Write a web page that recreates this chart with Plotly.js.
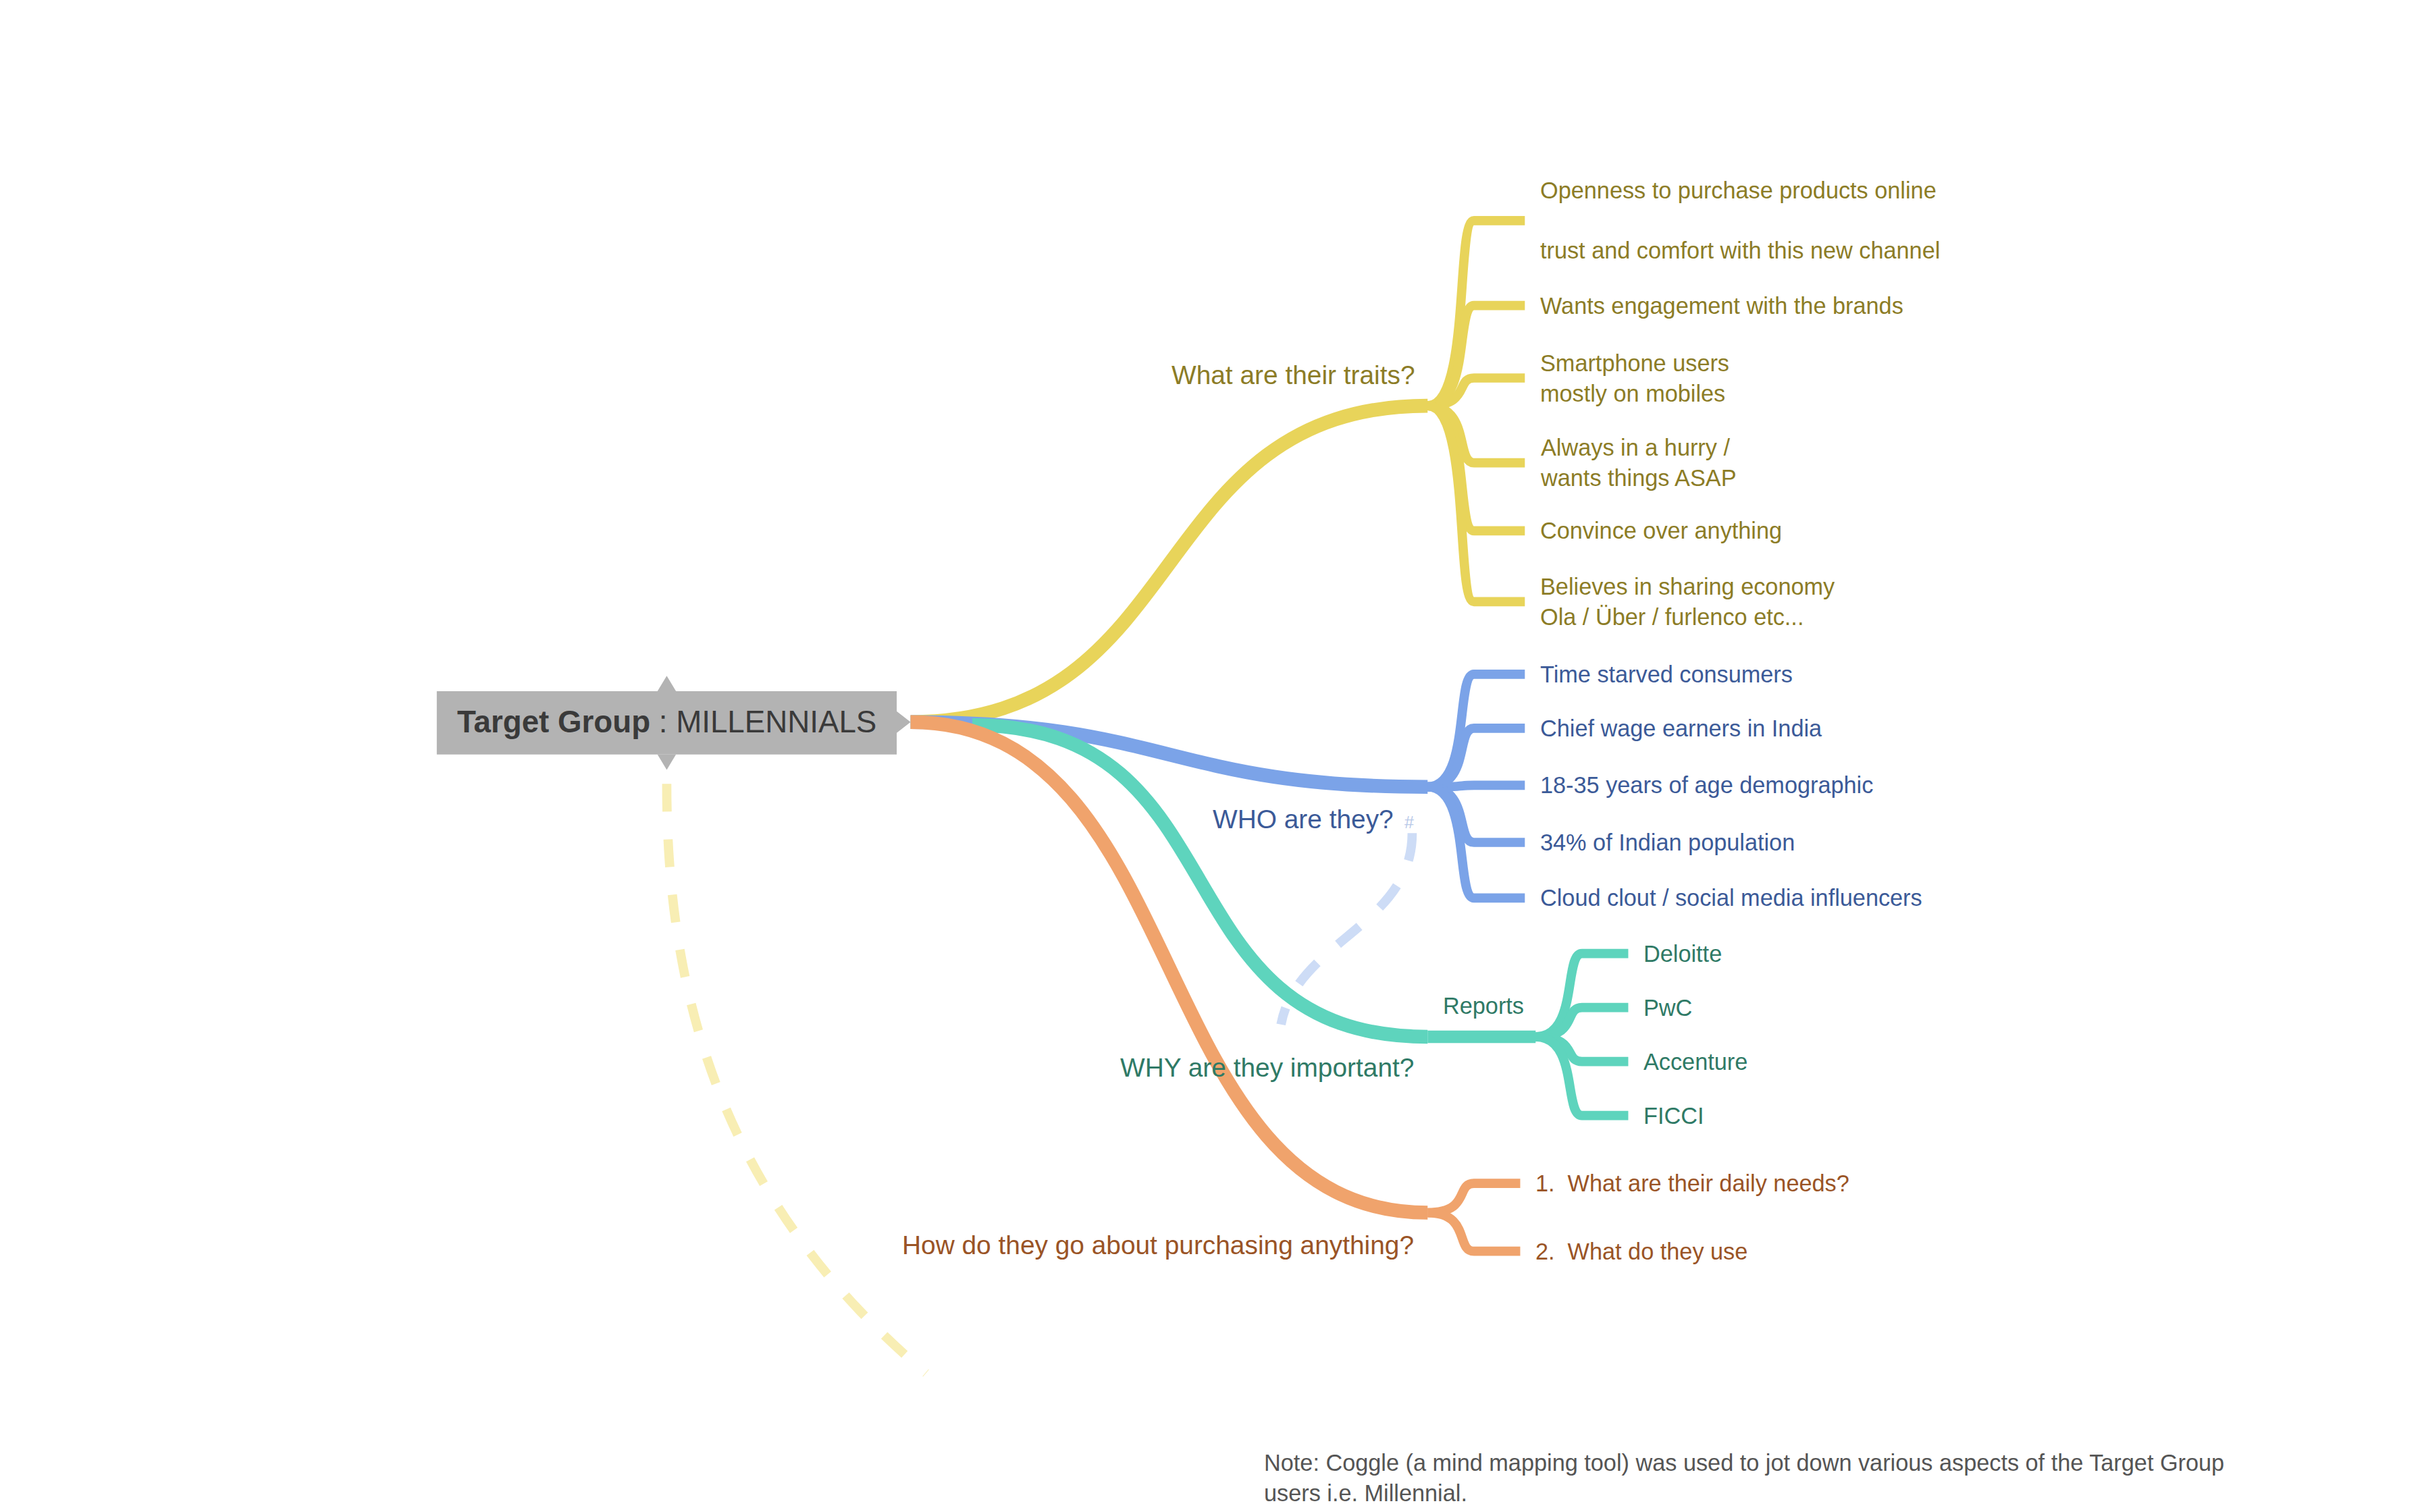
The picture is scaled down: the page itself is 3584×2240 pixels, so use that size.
<!DOCTYPE html>
<html><head><meta charset="utf-8">
<script src="https://cdn.plot.ly/plotly-3.0.1.min.js"></script>
<style>html,body{margin:0;padding:0;background:#fff}#c{width:3584px;height:2240px}</style>
</head><body><div id="c"></div>
<script>
const rootBold = "Target Group";
const rootRest = " : MILLENNIALS";
const groupTitles = ["What are their traits?", "WHO are they?", "WHY are they important?", "How do they go about purchasing anything?"];
const groupColors = ["#e8d45a", "#7ba3e8", "#5ed4bd", "#f0a36c"];
const groupText = ["#8c7c26", "#3b5a98", "#2f7a66", "#9a5426"];
const traits = ["Openness to purchase products online<br><br>trust and comfort with this new channel","Wants engagement with the brands","Smartphone users<br>mostly on mobiles","Always in a hurry /<br>wants things ASAP","Convince over anything","Believes in sharing economy<br>Ola / Über / furlenco etc..."];
const who = ["Time starved consumers","Chief wage earners in India","18-35 years of age demographic","34% of Indian population","Cloud clout / social media influencers"];
const reportsTitle = "Reports";
const reports = ["Deloitte","PwC","Accenture","FICCI"];
const purchasing = ["1.  What are their daily needs?","2.  What do they use"];
const note = "Note: Coggle (a mind mapping tool) was used to jot down various aspects of the Target Group<br>users i.e. Millennial.";

// layout geometry (display units, 1568x980 canvas)
const S = 3584/1568;
const shapes = [], ann = [];
const F = "Liberation Sans, Arial, sans-serif";
function curve(x0,y0,x1,y1,color,w,dash,k){
  k = k===undefined?0.5:k;
  const dx=(x1-x0)*k;
  shapes.push({type:'path',xref:'x',yref:'y',path:`M ${x0},${y0} C ${x0+dx},${y0} ${x1-dx},${y1} ${x1},${y1}`,
    line:{color:color,width:w*S,dash:dash||'solid'},layer:'below'});
}
function label(x,y,t,color,size,anchor){
  ann.push({x:x,y:y,xref:'x',yref:'y',text:t,showarrow:false,xanchor:anchor||'left',yanchor:'middle',align:'left',
    font:{family:F,size:size*S,color:color}});
}
function bracket(px,py,ex,ends,labels,color,tcol){
  ends.forEach((ey,i)=>{
    shapes.push({type:'path',xref:'x',yref:'y',path:`M ${px},${py} C ${px+28},${py} ${px+18},${ey} ${px+30},${ey+(py>ey?8:-8)*0} C ${px+36},${ey} ${ex-25},${ey} ${ex},${ey}`,
      line:{color:color,width:6*S},layer:'below'});
    label(ex+9,ey,labels[i],tcol,15);
  });
}
// dashed
shapes.push({type:'path',xref:'x',yref:'y',path:'M 432,508 C 432,650 470,780 600,890',line:{color:'#f8eeb4',width:6*S,dash:'dash'},layer:'below'});
shapes.push({type:'path',xref:'x',yref:'y',path:'M 915,540 C 915,600 840,610 830,664',line:{color:'#cddcf6',width:6*S,dash:'dash'},layer:'below'});
// main branches
const starts=[585,468];
curve(590,468,925,263,groupColors[0],9,null,0.55);
curve(590,468,925,510,groupColors[1],9,null,0.5);
curve(630,470,925,672,groupColors[2],9,null,0.6);
curve(590,468,925,786,groupColors[3],9,null,0.55);
curve(925,672,995,672,groupColors[2],8);
// children
bracket(925,263,988,[143,198,245,300,344,390],traits,groupColors[0],groupText[0]);
bracket(925,510,988,[437,472,509,546,582],who,groupColors[1],groupText[1]);
bracket(995,672,1055,[618,653,688,723],reports,groupColors[2],groupText[2]);
bracket(925,786,985,[767,811],purchasing,groupColors[3],groupText[3]);
// group titles
label(918,243,groupTitles[0],groupText[0],17,'right');
label(904,531,groupTitles[1],groupText[1],17,'right');
label(917,692,groupTitles[2],groupText[2],17,'right');
label(917,807,groupTitles[3],groupText[3],17,'right');
label(961,652,reportsTitle,groupText[2],15,'center');
label(913,533,'#','#b8c8e8',11,'center');
// root
shapes.push({type:'rect',xref:'x',yref:'y',x0:283,x1:581,y0:448,y1:489,fillcolor:'#b3b3b3',line:{width:0},layer:'above'});
shapes.push({type:'path',xref:'x',yref:'y',path:'M 426,448 L 432,438 L 438,448 Z M 426,489 L 432,499 L 438,489 Z M 581,461 L 590,468 L 581,475 Z',fillcolor:'#b3b3b3',line:{width:0},layer:'above'});
label(432,468,'<b>'+rootBold+'</b>'+rootRest,'#3a3a3a',20,'center');
// note
ann.push({x:818,y:958,xref:'x',yref:'y',text:note,showarrow:false,xanchor:'left',yanchor:'middle',align:'left',font:{family:F,size:15*S,color:'#555555'}});

Plotly.newPlot('c',[{x:[],y:[],type:'scatter'}],{
  width:3584,height:2240,margin:{l:0,r:0,t:0,b:0},paper_bgcolor:'#fff',plot_bgcolor:'#fff',
  xaxis:{range:[0,1568],visible:false,fixedrange:true},
  yaxis:{range:[980,0],visible:false,fixedrange:true},
  shapes:shapes,annotations:ann,showlegend:false
},{displayModeBar:false,staticPlot:true});
</script></body></html>
